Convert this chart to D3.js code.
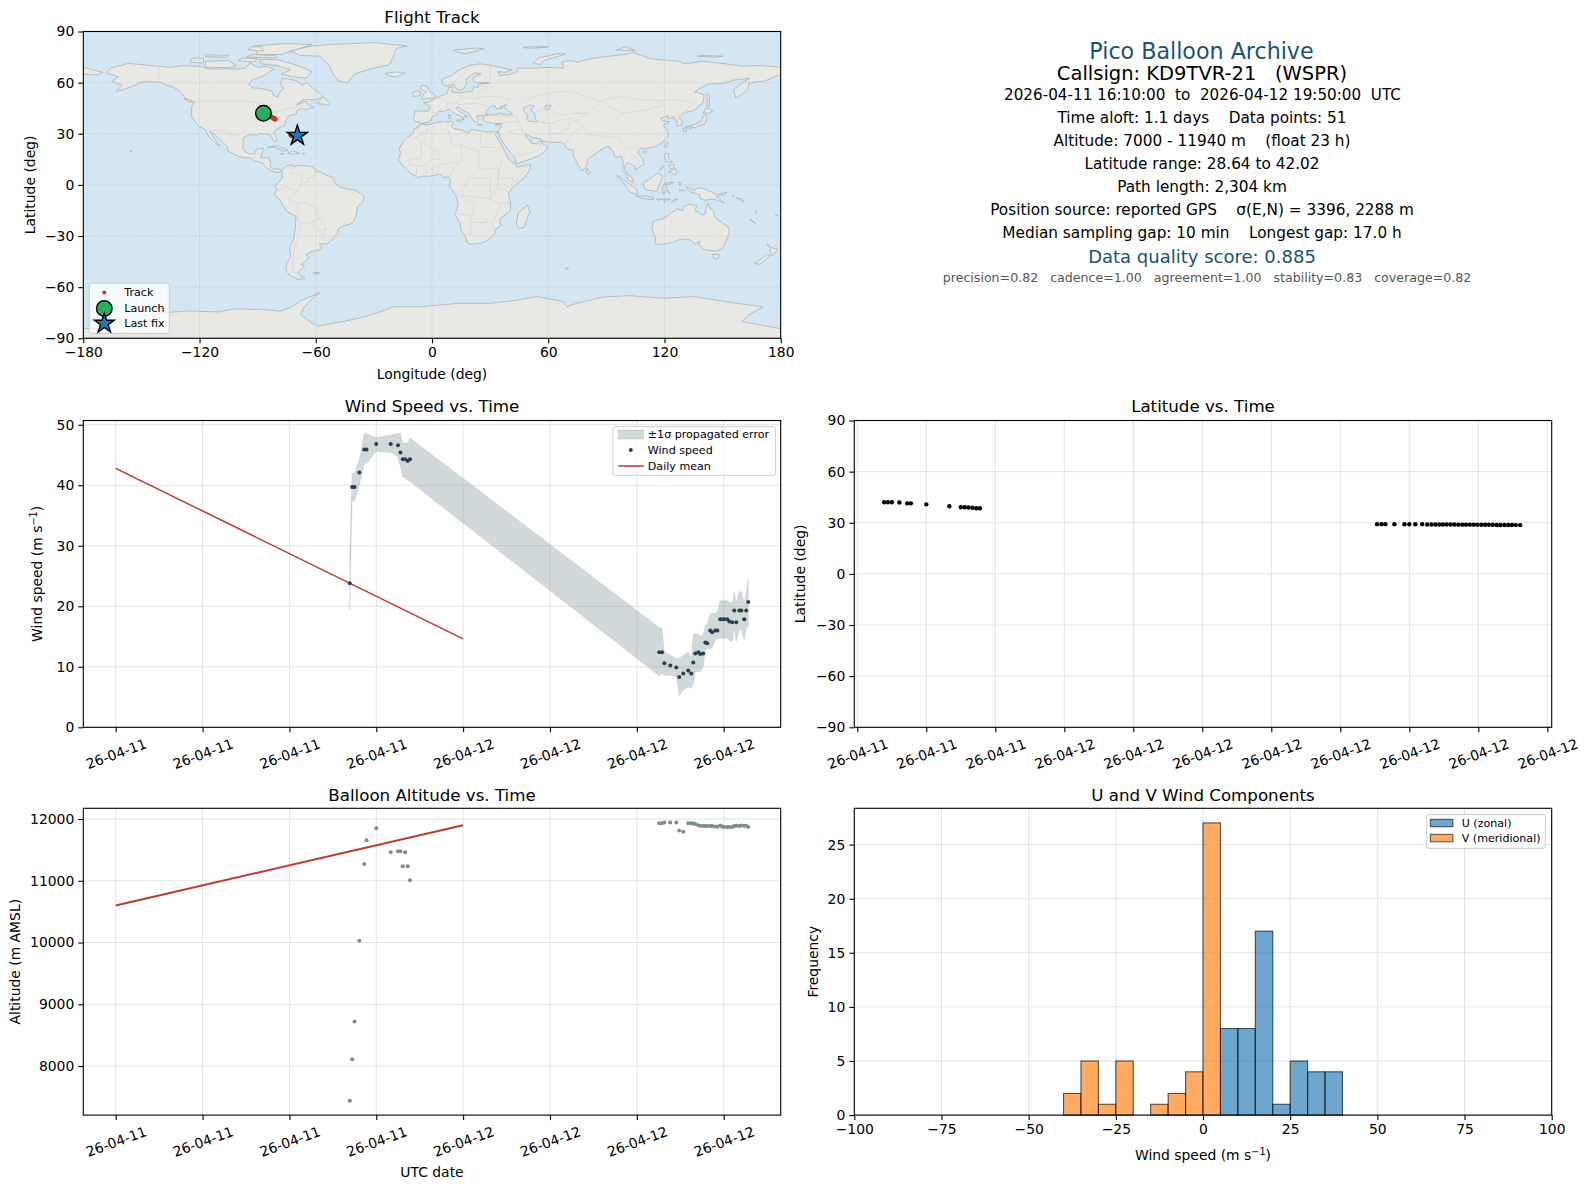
<!DOCTYPE html>
<html>
<head>
<meta charset="utf-8">
<script src="https://cdn.jsdelivr.net/npm/d3@7"></script>
<style>
  html, body { margin: 0; padding: 0; background: #fff; }
  svg { display: block; }
  text { font-family: "DejaVu Sans", sans-serif; fill: #000; }
</style>
</head>
<body>
<svg id="chart" width="1589" height="1189"></svg>
<script>
// all times are hours after 2026-04-11 00:00 UTC
const windHours = [16.17, 16.33, 16.5, 16.83, 17.17, 17.33, 18, 19, 19.5, 19.67, 19.83, 20, 20.17, 20.33,
    37.55, 37.74, 37.9, 38.31, 38.73, 38.93, 39.21, 39.55, 39.76, 39.9, 40.04, 40.25, 40.38, 40.59, 40.73, 40.86,
    41.07, 41.21, 41.42, 41.56, 41.76, 41.9, 42.04, 42.25, 42.39, 42.59, 42.73, 42.87, 43.08, 43.22, 43.42, 43.56, 43.7];
const windSpeed = [23.8, 39.7, 39.7, 42.1, 45.9, 45.9, 46.8, 46.8, 46.6, 45.4, 44.3, 44.3, 44, 44.3,
    12.4, 12.4, 10.6, 10.2, 9.9, 8.3, 8.9, 9.4, 8.9, 10.7, 12.2, 12.4, 12.1, 12.2, 14, 13.9,
    16, 15.7, 16, 16, 17.85, 17.85, 17.85, 17.85, 17.5, 17.35, 19.3, 17.35, 19.3, 19.3, 17.85, 19.3, 20.7];
const windHigh = [28.2, 42, 42, 44.2, 48.5, 48.5, 47.9, 48.3, 48.6, 48.6, 47, 47, 47, 47.8,
    16.5, 16.4, 12.4, 12, 11.3, 11.4, 11.9, 12.4, 11.4, 15.3, 15.4, 15.4, 15, 15.3, 16.9, 16.9,
    18.8, 18.8, 18.8, 19.1, 20.9, 20.9, 20.9, 20.9, 20.7, 20.5, 22.4, 20.5, 22.4, 22.4, 20.5, 22.4, 24.6];
const windLow = [19.4, 37.6, 37.3, 40, 43.6, 43.6, 45.6, 45.4, 44.7, 43.1, 41.4, 41.2, 40.8, 40.6,
    8.5, 8.9, 8.6, 8.6, 8.4, 5.2, 6.2, 6.7, 6.4, 7.3, 9.2, 9.2, 9.2, 10, 12.8, 13.1,
    12.9, 13.2, 14.4, 14.7, 14.7, 14.7, 14.7, 14.7, 14.4, 14.2, 16.4, 14.2, 16.1, 16.1, 14.4, 16.4, 16.6];
const dailyHours = [0, 24];
const dailyWind = [42.8, 14.6];
const dailyAltitude = [10600, 11900];

const altitude = [7440, 8110, 8720, 10030, 11270, 11655, 11850, 11460, 11477, 11477, 11235, 11460, 11235, 11008,
    11930, 11930, 11945, 11945, 11945, 11815, 11795, 11930, 11930, 11925, 11920, 11900, 11890, 11885, 11885, 11885,
    11885, 11885, 11880, 11875, 11895, 11880, 11870, 11870, 11870, 11870, 11885, 11890, 11885, 11895, 11890, 11890, 11870];

const latHours = [16.17, 16.33, 16.5, 16.83, 17.17, 17.33, 18, 19, 19.5, 19.67, 19.83, 20, 20.17, 20.33,
    37.6, 37.79, 37.96, 38.35, 38.79, 39, 39.26, 39.56, 39.78, 39.96, 40.13, 40.3, 40.46, 40.63, 40.8, 40.96,
    41.13, 41.3, 41.46, 41.63, 41.8, 41.96, 42.13, 42.3, 42.46, 42.63, 42.8, 42.96, 43.13, 43.3, 43.46, 43.63, 43.82];
const latitude = [42.02, 42, 42, 41.9, 41.4, 41.4, 40.8, 39.7, 39.1, 39.1, 39, 38.8, 38.5, 38.5,
    29.2, 29.2, 29.2, 29.1, 29.1, 29.1, 29.1, 29.1, 29, 29, 29, 29, 29, 29, 29, 29,
    28.9, 28.9, 28.9, 28.9, 28.9, 28.8, 28.8, 28.8, 28.8, 28.8, 28.7, 28.7, 28.7, 28.7, 28.7, 28.64, 28.64];
const longitude = [-87, -86.6, -86.2, -85.4, -84.8, -84.5, -83.5, -82.8, -81.9, -81.7, -81.4, -81.2, -81, -80.8,
    -72.8, -72.7, -72.6, -72.5, -72.4, -72.3, -72.2, -72.1, -72, -71.9, -71.8, -71.7, -71.6, -71.5, -71.4, -71.3,
    -71.2, -71.1, -71, -70.9, -70.8, -70.7, -70.6, -70.5, -70.4, -70.3, -70.2, -70.1, -70, -69.9, -69.8, -69.7, -69.5];

const binStarts = [-40, -35, -30, -25, -20, -15, -10, -5, 0, 5, 10, 15, 20, 25, 30, 35];
const uCounts = [0, 0, 0, 0, 0, 0, 0, 0, 0, 8, 8, 17, 1, 5, 4, 4];
const vCounts = [2, 5, 1, 5, 0, 1, 2, 4, 27, 0, 0, 0, 0, 0, 0, 0];

const mapLonTicks = [-180, -120, -60, 0, 60, 120, 180];
const mapLatTicks = [-90, -60, -30, 0, 30, 60, 90];
const windTicks = [0, 10, 20, 30, 40, 50];
const altitudeTicks = [8000, 9000, 10000, 11000, 12000];
const histXTicks = [-100, -75, -50, -25, 0, 25, 50, 75, 100];
const histYTicks = [0, 5, 10, 15, 20, 25];

// text, font size, colour, y, x offset from the column centre
const summaryLines = [
    ['Pico Balloon Archive', 22.2, '#1a5276', 50.5, -1.5],
    ['Callsign: KD9TVR-21   (WSPR)', 19.5, '#000', 73, -1],
    ['2026-04-11 16:10:00  to  2026-04-12 19:50:00  UTC', 15.2, '#000', 94.5, -0.5],
    ['Time aloft: 1.1 days    Data points: 51', 15.3, '#000', 117.5, -1],
    ['Altitude: 7000 - 11940 m    (float 23 h)', 15.3, '#000', 140.5, -1],
    ['Latitude range: 28.64 to 42.02', 15.3, '#000', 163.5, -1],
    ['Path length: 2,304 km', 15.3, '#000', 186.5, -1],
    ['Position source: reported GPS    σ(E,N) = 3396, 2288 m', 15.3, '#000', 209.5, -1],
    ['Median sampling gap: 10 min    Longest gap: 17.0 h', 15.3, '#000', 232.5, -1],
    ['Data quality score: 0.885', 18, '#1a5276', 256.5, -1],
    ['precision=0.82   cadence=1.00   agreement=1.00   stability=0.83   coverage=0.82', 12.6, '#555', 277.5, 4],
];

// coarse coastlines, hand traced [lon, lat]
const landShapes = [
    // north america
    [[-168,65.6],[-166,68.5],[-156.5,71.3],[-141,69.6],[-135,69],[-128,70],[-120,69.5],[-115,68],[-108,68],[-100,68],[-96,68.5],[-94,71.5],[-90,69],[-85,69.5],[-81.5,68],[-87,64],[-93,61.5],[-94.5,59],[-92.5,57],[-88,56.5],[-82.5,55],[-82,52.5],[-79.5,51.5],[-79,54],[-76.5,56.5],[-78,59],[-77.5,62.5],[-73,62],[-70,61],[-67,58.5],[-64.5,60],[-61,56],[-57,53],[-56,51.8],[-60,50],[-66.5,50],[-70,47],[-65,49],[-64,47],[-61,45.5],[-66,44],[-67,45],[-70,43.5],[-70,41.7],[-74,40.5],[-75.5,38],[-76,35],[-78,34],[-81,32],[-81.5,30.5],[-80,27],[-80.3,25.2],[-81.5,25.5],[-82.8,28],[-83.5,29.5],[-85.5,29.8],[-89,30.2],[-90,29.2],[-94,29.5],[-97,28],[-97.5,25],[-97.8,22],[-96,19],[-94,18.2],[-91.5,18.5],[-90.5,21],[-87,21.5],[-88,18],[-88.5,16],[-84,15.8],[-83.3,12],[-83.7,11],[-82,9],[-79.5,9.5],[-77.5,8.5],[-78.5,7.5],[-80.5,7.3],[-83,8.3],[-85.5,10],[-87.5,13],[-91.5,14],[-94.5,16.2],[-97,15.8],[-101.5,17.5],[-105.5,20],[-105.5,22.5],[-109,26],[-112.5,30],[-114.7,31.5],[-113,28.5],[-111,25],[-109.7,23],[-112,24.8],[-115,28],[-116.5,31],[-117,32.5],[-120.5,34.5],[-122.5,37.5],[-124.3,40.5],[-124,46],[-122.5,48.5],[-127,50.5],[-130,54.5],[-133,57],[-137,58.5],[-140,60],[-146,60.8],[-151,60],[-153,58.5],[-158,56.5],[-163,54.8],[-160,58.5],[-165,60.5],[-162,63.5]],
    // canadian arctic, greenland, newfoundland
    [[-80,73.5],[-72,71],[-67,69],[-62,66.5],[-65,62.5],[-72,63.5],[-78,65],[-73,67.5],[-80,70],[-88,71],[-89,73.5]],
    [[-117,69],[-105,68.8],[-101,70],[-105,73],[-117,72.5]],
    [[-125,72],[-118,71.5],[-118,74.5],[-124,74.3]],
    [[-90,76.5],[-78,76.5],[-62,82.3],[-75,83],[-92,81.5]],
    [[-96,75],[-80,74.5],[-81,75.8],[-92,76.5]],
    [[-100,73],[-92,72],[-90,74],[-98,74.5]],
    [[-117,75.2],[-106,74.9],[-105,76],[-117,76.3]],
    [[-95,79.3],[-87,78.5],[-88,81],[-93,81]],
    [[-59,47.7],[-53,46.7],[-52.8,48.5],[-56,51.5],[-57.5,50]],
    [[-73,78.5],[-68,76],[-58,75.5],[-53,70],[-51,65],[-48.5,61],[-43.5,60],[-40,65],[-32,68],[-22,70.5],[-20,75],[-18.5,80],[-13,81.5],[-30,83.5],[-50,82.5],[-62,81.5],[-68,80]],
    [[-85,22],[-80,23],[-75,20.7],[-74.2,20.1],[-77.5,19.9],[-78,20.7],[-82,22.3]],
    [[-74.4,18.5],[-72,20],[-68.5,18.5],[-71,18]],
    [[-78.3,18.4],[-76.3,18.2],[-77,17.8]],
    [[-67.2,18.5],[-65.7,18.4],[-66,18]],
    [[-128,50.5],[-125,50],[-123.5,48.5],[-125.5,48.8]],
    [[-156,20.2],[-155,19.8],[-155.7,19],[-156,19.7]],
    // south america
    [[-77.5,8.5],[-75.5,10.8],[-72,12],[-71.5,10.8],[-68,11.5],[-62,10.7],[-60,8.5],[-55,6],[-51.5,4.5],[-50,1],[-48,-1],[-44,-2.5],[-40,-3],[-37,-4.8],[-35,-7],[-35.5,-9.5],[-38.5,-13],[-39,-17],[-40.5,-21.5],[-42,-23],[-46,-24],[-48.5,-26],[-48.7,-28.5],[-52,-32.5],[-54,-34.5],[-58,-34.5],[-57,-36.5],[-57.7,-38.2],[-62,-39],[-65,-41],[-63.5,-42.5],[-65.5,-45],[-67.5,-46.5],[-65.8,-47.5],[-69,-51],[-68.5,-52.5],[-65.5,-55],[-69,-55.5],[-73,-53.5],[-75.5,-50],[-75,-46],[-73,-42],[-73.5,-37],[-71.5,-32],[-70.5,-25],[-70.2,-18.5],[-75,-15.5],[-77,-12],[-79,-8],[-81.2,-6],[-81,-4],[-80,-2.5],[-81,-1],[-80,1],[-78.8,1.7],[-77.3,4],[-77.5,7]],
    [[-61,-51.5],[-58,-51.3],[-58.5,-52.2],[-60.5,-52.2]],
    // africa
    [[-6,35.8],[-2,35.2],[3,36.8],[10,37.3],[11,36.8],[10.2,34],[11,33.2],[15,32.3],[19,30.3],[20,32.5],[25,31.7],[29,31],[32.5,31.2],[34.2,31.3],[32.5,29.5],[34,27],[36,23],[37.3,20],[38.5,18],[39.5,15],[43,12],[44,10.5],[51,12],[50.5,9],[47.5,4],[42,-1],[39.5,-5],[40.5,-11],[40.5,-15],[35,-20],[35.5,-24],[32.8,-26],[32.5,-28.5],[29,-32.5],[26,-34],[20,-34.8],[18.3,-34],[17,-30],[15,-26.5],[14.5,-22.5],[11.8,-17.5],[13.5,-12],[13,-8.5],[11.8,-5],[9,-1],[9.5,3],[8.5,4.5],[5.5,4.5],[4,6.3],[-2,5],[-4.5,5.2],[-7.5,4.4],[-11,6.8],[-13.5,9.5],[-15,11],[-17.3,14.7],[-16.2,19],[-17,21],[-14.5,26],[-12.8,27.8],[-9.8,30],[-9.5,32.5],[-6.8,34]],
    [[49.3,-12],[50.5,-15.5],[47.5,-24.8],[45,-25.5],[43.5,-23],[44.5,-16.5]],
    // eurasia
    [[-9,37],[-9.5,38.8],[-8.8,43.2],[-1.8,43.4],[-1,46],[-4.5,48.3],[-1.5,48.7],[1.5,50.5],[4,52],[8,53.8],[8.5,57],[10.5,57.5],[10,54.5],[14,54],[18.5,54.7],[21,55],[21.5,57.5],[24,57.2],[24,59.2],[30,59.8],[23,60],[21.3,61],[21.5,63],[25.2,65],[22,65.7],[17.5,62],[18,60],[16.5,56.5],[14,55.5],[12.8,56.3],[11,59],[8,58],[5.5,59],[5,62],[10,64],[14,67.5],[19,70],[25,71],[31,70],[41,67.5],[38,66],[34,66.5],[35,64.3],[40,64.7],[44,66.5],[44,68.5],[54,68.5],[60,69],[68,68.5],[67,72],[72,73],[75,72],[80,73.5],[87,75],[100,76.5],[104,77.7],[113,74],[128,72.5],[130,71],[140,72.5],[152,71],[160,69.7],[170,70],[180,69],[180,65],[178,64],[172,61],[163.5,59.8],[163,56],[159.7,53],[156.7,51],[155.7,56],[161,60.5],[164,62.5],[156,61.5],[150,59.5],[142,59],[135.5,54.7],[140.5,53],[140,48.5],[135,43.5],[130.5,42.5],[127.5,39.8],[129.4,37],[129,35.2],[126.4,34.5],[126.5,37.5],[125,38.5],[125,39.7],[121.5,39],[122,40.7],[118,39],[119,37.5],[122.5,37],[119.3,35],[121.8,31.5],[121.8,28.5],[119,25],[116,22.8],[110.5,21.2],[108,21.5],[106,19.5],[108.8,15.5],[109.3,12],[106.5,10],[105,8.7],[105,10.5],[102.5,12.2],[100.8,13.3],[100,12],[99.3,9.5],[100.5,7],[103.3,4],[104.2,1.4],[101.3,2.8],[100.3,6],[98.3,8.5],[98.7,14],[97.5,16.8],[94.5,16],[94,18.5],[91.5,22.5],[89,21.8],[86.5,20],[80.3,15],[80,11.5],[77.5,8],[75.5,11.5],[73,17],[72.8,20.5],[70,20.8],[68.5,23.5],[66.8,25],[61.5,25],[57,25.7],[56.4,27],[51.5,27.8],[48.5,30],[48,29.5],[50,26.5],[51.3,26],[51,24.5],[54,24],[56.3,26],[56.5,24.5],[59.8,22.5],[57.8,19],[55,17],[52,15.6],[45,12.8],[43.3,12.7],[42.7,16],[39,21],[35,28],[34.8,29.5],[34.2,31.3],[35,33],[36,36],[32.5,36],[28,36.7],[26.3,38.5],[26.5,40],[29,41],[31.5,41.2],[35,42],[38,41],[41.5,41.5],[39,44],[37,45.2],[38.5,47],[35,46],[36.5,45.2],[33.5,44.6],[32.5,45.5],[33,46],[30.7,46.5],[28.5,44],[27.8,42.5],[28.8,41.3],[26.2,40.8],[23,40.5],[24,38],[23,36.5],[21.5,37.5],[19.5,41],[19,42],[15,44.5],[13.6,45.7],[12.3,45],[13.5,43.5],[16,41.7],[18.5,40],[16.8,40.3],[16,38],[15.7,40],[12.5,41.4],[10.3,43],[8.8,44.4],[6,43],[3.5,43.3],[3,42],[0,39.8],[-0.5,38],[-2,36.8],[-5.5,36],[-6.5,37]],
    [[-180,69],[-175,67.5],[-170,66],[-173,64.5],[-180,65]],
    // european and arctic islands
    [[-5.5,50.2],[1.3,51.2],[1.7,52.7],[-0.5,54],[-2,56],[-2,57.6],[-5,58.6],[-6,56.5],[-3,54.5],[-4.5,53.2],[-5,51.7]],
    [[-10,52],[-6.3,52.2],[-6,54.5],[-8,55.2],[-10,54]],
    [[-24,65.5],[-18,66.3],[-14,65.5],[-18.5,63.4],[-22.5,64]],
    [[11,79],[22,80.3],[27,80],[18,77],[14,77.5]],
    [[52,71.5],[56,70.6],[58,73],[69,76.8],[65,77],[55,74.5]],
    [[95,79],[105,78.8],[100,81]],
    [[137,75.5],[146,75],[150,75.5],[140,76]],
    [[47,80.5],[53,80.2],[60,81],[50,81]],
    [[12.5,38],[15.5,38.2],[15,36.8]],
    [[8.3,41],[9.7,41],[9.5,39],[8.5,39]],
    [[23.5,35.5],[26.2,35.2],[24.5,34.9]],
    [[32.5,35],[34.5,35.6],[33.8,34.6]],
    // east asia and indonesia
    [[142,54],[143.3,52],[143,49],[143.5,46.5],[142,46],[142,50]],
    [[140,42],[141.5,45.3],[145,43.5],[143,42]],
    [[130.9,34],[135.8,35.6],[139,37.5],[140,40],[141.3,41.3],[142,39.5],[140.8,35.7],[137,34.6],[135.7,33.5],[132,34]],
    [[129.7,33.2],[131.7,33.6],[131,31.2],[130,31.5]],
    [[132.5,33.8],[134.5,34.2],[134,33.3],[133,32.8]],
    [[121,25.2],[122,25],[120.8,22],[120,23.5]],
    [[108.7,19.3],[110.5,20.2],[111,19.6],[109.5,18.2]],
    [[79.8,9.7],[81.8,7.5],[80.7,6],[79.8,7.5]],
    [[120.5,18.4],[122.2,18.4],[122,16],[124,13],[121,13.7],[120,16]],
    [[122,7.5],[125.5,9.7],[126.5,7.5],[125.3,5.8],[123.5,7.5]],
    [[122,11.5],[125,12],[125,10.2],[123,9.5]],
    [[117.2,8.4],[119.5,11.2],[118.5,9.3]],
    [[109,1.5],[111.5,2.8],[116.8,7],[119,5],[117.7,1],[116,-3.8],[110.5,-3],[109,0]],
    [[95.3,5.6],[98,4],[103.5,-1],[106,-3],[105.8,-5.8],[102,-4],[98.7,1.5]],
    [[105.3,-6.5],[110.5,-6.5],[114.5,-7.7],[114.3,-8.7],[108,-7.8]],
    [[119.5,-5.5],[119,-2.5],[120,1],[124.8,1.5],[123,0.5],[120.5,0.2],[121,-2],[123,-5],[120.5,-3]],
    [[131,-1],[135,-3.3],[138,-1.6],[141,-2.6],[145,-4.5],[147.8,-6.5],[147,-7],[150.8,-10.5],[146,-8.5],[143.5,-8.5],[141,-9],[138.5,-8],[138,-5.5],[133,-4],[132,-2.8]],
    [[123.5,-10.3],[127,-8.4],[125,-8.6]],
    [[119,-8.4],[123,-8.3],[122,-9]],
    [[116,-8.4],[119,-8.4],[117,-9]],
    [[119.5,-9.4],[120.8,-9.8],[120,-10.2]],
    [[127.5,-3],[130.8,-3.2],[128,-3.5]],
    [[127.5,2],[128.5,1],[128,-0.7]],
    [[148,-5.5],[152,-4.2],[151,-6]],
    [[155,-6],[156,-7],[155.5,-6.8]],
    [[157,-7.5],[161,-10],[160,-8.5]],
    [[166.8,-15],[167.5,-16.5],[167,-15.8]],
    [[164,-20],[167,-22.3],[166,-22]],
    [[177.5,-17.5],[178.5,-18],[177.5,-18.2]],
    // australasia
    [[114,-22],[113.5,-26],[115.5,-31.5],[115,-34.3],[118,-35],[123.5,-33.9],[129,-31.7],[133,-32.2],[135.8,-34.8],[138,-33],[138,-35.5],[140.5,-38],[144,-38.5],[146.5,-39],[150,-37.3],[151.5,-33.5],[153.5,-28],[153,-25],[149.5,-22],[146,-19],[145.3,-15],[143.5,-14],[142.5,-10.8],[141.5,-13.5],[141,-17],[139.5,-17.5],[135.7,-15],[136.8,-12.2],[132.7,-11.4],[130,-12.8],[129.5,-15],[126.5,-14],[122.3,-17.5],[119,-20],[115,-21]],
    [[144.7,-40.8],[148.3,-40.9],[148,-43],[146,-43.5],[145.2,-42]],
    [[172.7,-34.5],[175.5,-37],[178.4,-37.7],[176.8,-40],[175.2,-41.6],[174.8,-39.8],[174.5,-37.5]],
    [[172.7,-40.6],[174.2,-41.7],[171,-45],[169,-46.6],[166.5,-46],[170.5,-43]],
    [[68.8,-48.8],[70.5,-49],[69.5,-49.6]],
    // antarctica
    [[-180,-84.4],[-165,-84],[-158,-80],[-150,-77],[-140,-75],[-125,-74],[-110,-74.5],[-102.7,-72.8],[-88,-73],[-78.5,-74],[-73,-72],[-68,-68],[-58,-63.3],[-62,-67],[-66,-72],[-68,-76],[-62,-81],[-58.9,-82.8],[-45,-80],[-37,-78],[-28,-75],[-20,-71.5],[-6,-71.5],[14.4,-69.4],[30,-69.5],[42,-68],[54,-65.5],[68,-68.5],[69.7,-71.5],[74.7,-69.5],[88,-65.8],[102,-65],[120,-66.5],[135,-65.5],[146,-67.5],[157,-69.4],[171,-71.5],[163.4,-76.4],[160,-80.2],[180,-84.4],[180,-90],[-180,-90]],
];
const waterShapes = [
    [[47,45],[51,47],[53,46],[51,44.5],[53,41],[54,37],[50,37.3],[49,39],[49.5,41],[47.5,43]],
    [[58.5,46.5],[61.5,46.8],[60,44],[58.5,44]],
];
const borderLines = [
    [[-123,49],[-95,49],[-89,48],[-83,46],[-82.5,42.5],[-79,43],[-75,45],[-71,45],[-68,47.3],[-67,45]],
    [[-141,69.6],[-141,60],[-135,59],[-130,55]],
    [[-117,32.5],[-108,31.5],[-106.5,31.7],[-103,29],[-101,29.7],[-97.2,26]],
    [[-92,14.5],[-91,18],[-88.5,18]],
    [[-72,12],[-72.5,7],[-67.5,6],[-67,1.5]],
    [[-60,8.5],[-60.5,5],[-64,4],[-64,2],[-67,1.5],[-70,-4.2],[-74,-7.5],[-70,-11],[-65.5,-10],[-60,-13.5],[-58,-20],[-54.5,-25.5],[-57.5,-30],[-53.5,-33.5]],
    [[-69.5,-17.5],[-68,-23],[-70,-33],[-71.5,-40],[-72,-50],[-68.5,-52.5]],
    [[-69.5,-17.5],[-69,-11]],
    [[-68,-23],[-63,-22],[-58,-20]],
    [[-63,-22],[-58,-27],[-54.5,-25.5]],
    [[-80,-3.5],[-75,-1],[-70,-4.2]],
    [[-2,35],[-2,32],[-8.7,27.7],[-13,27.7]],
    [[9,30],[10,24],[12,23.5]],
    [[8.5,37],[8,33],[9,30]],
    [[-8.7,27.7],[-5,25],[3,19],[4,15],[0,15],[-5,11],[-12,12],[-11.5,15],[-5.5,15.5],[-6,25]],
    [[12,23.5],[15,23],[15.5,16],[14,13],[13.5,13.5],[3.5,12],[3,7]],
    [[25,31.7],[25,22],[37,22]],
    [[24,20],[24,9]],
    [[24,20],[15,23]],
    [[34,4],[36,15],[38.5,18]],
    [[24,9],[34,10],[34,4]],
    [[42,1],[48,8],[43,11]],
    [[34,4],[34,-1],[39.5,-4.5]],
    [[34,4],[42,4],[41,-1.5]],
    [[13,-6],[30,-8],[30,-1],[30,4],[18.5,4],[17,-1],[13,-5]],
    [[13,-17],[21,-18],[22,-11],[13,-6]],
    [[20,-18],[20,-29],[16.5,-28.6]],
    [[20,-22],[29,-22],[25,-18]],
    [[32,-26],[31,-22],[34,-16],[35,-11],[40.5,-10.5]],
    [[34,-1],[30,-8],[35,-11]],
    [[13.5,13.5],[9,5]],
    [[-8,4.5],[-8,10]],
    [[-3,5],[-3,11]],
    [[1,6],[0,11]],
    [[30,70],[30,62],[28,60]],
    [[20,69],[12,61],[11,59]],
    [[24,59],[28,57],[23.5,54]],
    [[14,54],[15,51],[24,50.5],[23.5,54]],
    [[3,51],[8,49],[7.5,44]],
    [[3,42],[-2,43]],
    [[8,48],[13,48],[15,51]],
    [[13,47],[22.5,48],[30,46]],
    [[40,50],[33,52],[24,51.5]],
    [[38,47],[40,50]],
    [[26,41],[44,40],[44.5,37],[36,36.5]],
    [[44.5,37],[46,33],[48,30]],
    [[61,36],[61,30],[62,25]],
    [[53,37],[61,36]],
    [[39,32],[46,29],[48,29.5]],
    [[43,17],[52,19],[55,20],[56,24.5]],
    [[61,30],[66,30],[70,33],[71,37],[74.5,37.5]],
    [[68.5,23.7],[71,28],[74.5,32],[78,35]],
    [[74.5,37.5],[80,42],[87,49],[98,42],[111,44],[120,47],[117,49.5],[127,50],[135,48],[131,43],[124,40]],
    [[78,35],[81,30],[88,28],[97,28],[98,24],[101,21.5],[107,22]],
    [[47,48],[51,51],[61,54],[70,55],[77,53],[87,49]],
    [[53,42],[56,45],[61,44],[67,41],[71,42],[80,42]],
    [[54,38],[61,36],[66,38],[73,39]],
    [[87,49],[98,52],[106,50],[117,49.5]],
    [[98,15],[100,20],[101,21.5]],
    [[103,18],[107,14],[105,10.5]],
    [[125,38],[128,38.5]],
];

const MINUS = '\u2212';
const RED = '#c0392b';
const OCEAN = '#d4e6f1';
const COAST = '#a8b0b4';
const LEFT_COL = 83.3;
const RIGHT_COL = 854.3;
const AXES_W = 697.4;
const AXES_H = 306.8;

const toDate = (hours) => new Date(Date.UTC(2026, 3, 11) + hours * 3600e3);
const signed = (value) => String(value).replace('-', MINUS);
const svg = d3.select('#chart');

function makePanel(left, top, title, titleY) {
    const panel = svg.append('g').attr('transform', `translate(${left},${top})`);
    panel.append('text')
        .attr('x', AXES_W / 2)
        .attr('y', titleY)
        .attr('text-anchor', 'middle')
        .style('font-size', '16.67px')
        .text(title);
    return panel;
}

function drawAxes(panel, xAxis, yAxis, rotate) {
    const gx = panel.append('g').attr('transform', `translate(0,${AXES_H})`).call(xAxis);
    const gy = panel.append('g').call(yAxis);
    [gx, gy].forEach((axis) => {
        axis.select('.domain').remove();
        axis.selectAll('line').attr('stroke', '#000').attr('stroke-width', 1.1);
        axis.selectAll('text').style('font-size', '13.9px').style('font-family', '"DejaVu Sans", sans-serif');
    });
    if (rotate) {
        gx.selectAll('text')
            .attr('dy', null)
            .attr('y', null)
            .attr('dominant-baseline', 'central')
            .attr('transform', 'translate(0,26.5) rotate(-20)');
    }
    panel.append('rect')
        .attr('width', AXES_W)
        .attr('height', AXES_H)
        .attr('fill', 'none')
        .attr('stroke', '#000')
        .attr('stroke-width', 1.1);
}

function drawGrid(panel, xValues, x, yValues, y) {
    const grid = panel.append('g').attr('stroke', '#e3e3e3').attr('stroke-width', 1);
    grid.selectAll('.vgrid').data(xValues).join('line')
        .attr('class', 'vgrid')
        .attr('x1', x).attr('x2', x)
        .attr('y1', 0).attr('y2', AXES_H);
    grid.selectAll('.hgrid').data(yValues).join('line')
        .attr('class', 'hgrid')
        .attr('x1', 0).attr('x2', AXES_W)
        .attr('y1', y).attr('y2', y);
}

function yLabel(panel, x, text, superscript) {
    const label = panel.append('text')
        .attr('transform', `translate(${x},${AXES_H / 2}) rotate(-90)`)
        .attr('text-anchor', 'middle')
        .style('font-size', '13.9px')
        .text(text);
    if (superscript) {
        label.append('tspan').attr('dy', -5).style('font-size', '9.7px').text(superscript);
        label.append('tspan').attr('dy', 5).text(')');
    }
}

function xLabel(panel, y, text, superscript) {
    const label = panel.append('text')
        .attr('x', AXES_W / 2)
        .attr('y', y)
        .attr('text-anchor', 'middle')
        .style('font-size', '13.9px')
        .text(text);
    if (superscript) {
        label.append('tspan').attr('dy', -5).style('font-size', '9.7px').text(superscript);
        label.append('tspan').attr('dy', 5).text(')');
    }
}

function legendBox(panel, x, y, width, height) {
    return panel.append('rect')
        .attr('x', x).attr('y', y)
        .attr('width', width).attr('height', height)
        .attr('rx', 2)
        .attr('fill', '#fff')
        .attr('fill-opacity', 0.8)
        .attr('stroke', '#ccc')
        .attr('stroke-width', 1);
}

function legendText(panel, x, y, text) {
    panel.append('text')
        .attr('x', x).attr('y', y)
        .attr('dominant-baseline', 'central')
        .style('font-size', '11.1px')
        .text(text);
}

// ---- flight track map
function drawMap() {
    const panel = makePanel(LEFT_COL, 31.5, 'Flight Track', -8.5);
    const lon = d3.scaleLinear().domain([-180, 180]).range([0, AXES_W]);
    const lat = d3.scaleLinear().domain([-90, 90]).range([AXES_H, 0]);
    const line = d3.line().x((d) => lon(d[0])).y((d) => lat(d[1]));
    const closed = (d) => line(d) + 'Z';

    svg.append('defs').append('clipPath').attr('id', 'map-clip')
        .append('rect').attr('width', AXES_W).attr('height', AXES_H);

    const map = panel.append('g').attr('clip-path', 'url(#map-clip)');
    map.append('rect').attr('width', AXES_W).attr('height', AXES_H).attr('fill', OCEAN);
    map.selectAll('.land').data(landShapes).join('path')
        .attr('class', 'land')
        .attr('d', closed)
        .attr('fill', '#e8e8e4')
        .attr('stroke', COAST)
        .attr('stroke-width', 0.8)
        .attr('stroke-linejoin', 'round');
    map.selectAll('.water').data(waterShapes).join('path')
        .attr('class', 'water')
        .attr('d', closed)
        .attr('fill', OCEAN)
        .attr('stroke', COAST)
        .attr('stroke-width', 0.8);
    map.selectAll('.border').data(borderLines).join('path')
        .attr('class', 'border')
        .attr('d', line)
        .attr('fill', 'none')
        .attr('stroke', '#d4d4d0')
        .attr('stroke-width', 0.7);

    const grid = map.append('g')
        .attr('stroke', '#8c9296')
        .attr('stroke-opacity', 0.35)
        .attr('stroke-width', 0.6)
        .attr('stroke-dasharray', '2,1.5');
    grid.selectAll('.vgrid').data(mapLonTicks).join('line')
        .attr('class', 'vgrid')
        .attr('x1', lon).attr('x2', lon).attr('y1', 0).attr('y2', AXES_H);
    grid.selectAll('.hgrid').data(mapLatTicks).join('line')
        .attr('class', 'hgrid')
        .attr('y1', lat).attr('y2', lat).attr('x1', 0).attr('x2', AXES_W);

    map.selectAll('.track').data(longitude).join('circle')
        .attr('class', 'track')
        .attr('cx', (d) => lon(d))
        .attr('cy', (d, i) => lat(latitude[i]))
        .attr('r', 2.4)
        .attr('fill', RED)
        .attr('fill-opacity', 0.85);

    const star = d3.symbol().type(d3.symbolStar).size(124)();
    map.append('circle')
        .attr('cx', lon(longitude[0]))
        .attr('cy', lat(latitude[0]))
        .attr('r', 7.8)
        .attr('fill', '#27ae60')
        .attr('stroke', '#000')
        .attr('stroke-width', 1.4);
    map.append('path')
        .attr('d', star)
        .attr('transform', `translate(${lon(-69.5)},${lat(28.9)})`)
        .attr('fill', '#1f77b4')
        .attr('stroke', '#000')
        .attr('stroke-width', 1.4);

    drawAxes(panel,
        d3.axisBottom(lon).tickValues(mapLonTicks).tickSize(5).tickPadding(4).tickFormat(signed),
        d3.axisLeft(lat).tickValues(mapLatTicks).tickSize(5).tickPadding(4).tickFormat(signed));
    xLabel(panel, AXES_H + 41, 'Longitude (deg)');
    yLabel(panel, -48, 'Latitude (deg)');

    legendBox(panel, 6, 251.8, 80, 50);
    panel.append('circle').attr('cx', 21).attr('cy', 261).attr('r', 2).attr('fill', RED);
    panel.append('circle').attr('cx', 21).attr('cy', 277).attr('r', 7.8)
        .attr('fill', '#27ae60').attr('stroke', '#000').attr('stroke-width', 1.4);
    panel.append('path').attr('d', star).attr('transform', 'translate(21,292)')
        .attr('fill', '#1f77b4').attr('stroke', '#000').attr('stroke-width', 1.4);
    legendText(panel, 41, 261, 'Track');
    legendText(panel, 41, 277, 'Launch');
    legendText(panel, 41, 292, 'Last fix');
}

// ---- wind speed
function drawWind() {
    const panel = makePanel(LEFT_COL, 420.5, 'Wind Speed vs. Time', -9);
    const x = d3.scaleUtc().domain([toDate(-2.24), toDate(45.94)]).range([0, AXES_W]);
    const y = d3.scaleLinear().domain([0, 50.7]).range([AXES_H, 0]);
    const tickDates = x.ticks(d3.utcHour.every(6));
    drawGrid(panel, tickDates, x, windTicks, y);

    const band = d3.area()
        .x((d, i) => x(toDate(windHours[i])))
        .y0((d, i) => y(windLow[i]))
        .y1((d) => y(d));
    panel.append('path').datum(windHigh)
        .attr('d', band)
        .attr('fill', '#95a5a6')
        .attr('fill-opacity', 0.43)
        .attr('stroke', '#95a5a6')
        .attr('stroke-opacity', 0.3)
        .attr('stroke-width', 0.7);
    panel.append('path').datum(dailyWind)
        .attr('d', d3.line().x((d, i) => x(toDate(dailyHours[i]))).y((d) => y(d)))
        .attr('fill', 'none')
        .attr('stroke', RED)
        .attr('stroke-width', 1.5);
    panel.selectAll('.wind').data(windSpeed).join('circle')
        .attr('class', 'wind')
        .attr('cx', (d, i) => x(toDate(windHours[i])))
        .attr('cy', (d) => y(d))
        .attr('r', 2)
        .attr('fill', '#2c3e50');

    drawAxes(panel,
        d3.axisBottom(x).tickValues(tickDates).tickSize(5).tickFormat(d3.utcFormat('%y-%m-%d')),
        d3.axisLeft(y).tickValues(windTicks).tickSize(5).tickPadding(4),
        true);
    yLabel(panel, -41, 'Wind speed (m s', MINUS + '1');

    legendBox(panel, 529.7, 6.2, 162.6, 48.6);
    panel.append('rect').attr('x', 535).attr('y', 9.5).attr('width', 25.5).attr('height', 9)
        .attr('fill', '#95a5a6').attr('fill-opacity', 0.43).attr('stroke', '#95a5a6').attr('stroke-opacity', 0.3);
    panel.append('circle').attr('cx', 547.5).attr('cy', 29.5).attr('r', 2).attr('fill', '#2c3e50');
    panel.append('line').attr('x1', 535).attr('x2', 560.5).attr('y1', 45.5).attr('y2', 45.5)
        .attr('stroke', RED).attr('stroke-width', 1.5);
    legendText(panel, 564.5, 14, '\u00b11\u03c3 propagated error');
    legendText(panel, 564.5, 29.5, 'Wind speed');
    legendText(panel, 564.5, 45.5, 'Daily mean');
}

// ---- latitude
function drawLatitude() {
    const panel = makePanel(RIGHT_COL, 420.5, 'Latitude vs. Time', -9);
    const x = d3.scaleUtc().domain([toDate(14.87), toDate(45.19)]).range([0, AXES_W]);
    const y = d3.scaleLinear().domain([-90, 90]).range([AXES_H, 0]);
    const tickDates = x.ticks(d3.utcHour.every(3));
    drawGrid(panel, tickDates, x, mapLatTicks, y);
    panel.selectAll('.lat').data(latitude).join('circle')
        .attr('class', 'lat')
        .attr('cx', (d, i) => x(toDate(latHours[i])))
        .attr('cy', (d) => y(d))
        .attr('r', 2.2)
        .attr('fill', '#000');
    drawAxes(panel,
        d3.axisBottom(x).tickValues(tickDates).tickSize(5).tickFormat(d3.utcFormat('%y-%m-%d')),
        d3.axisLeft(y).tickValues(mapLatTicks).tickSize(5).tickPadding(4).tickFormat(signed),
        true);
    yLabel(panel, -49, 'Latitude (deg)');
}

// ---- altitude
function drawAltitude() {
    const panel = makePanel(LEFT_COL, 808.3, 'Balloon Altitude vs. Time', -7);
    const x = d3.scaleUtc().domain([toDate(-2.24), toDate(45.94)]).range([0, AXES_W]);
    const y = d3.scaleLinear().domain([7206, 12173]).range([AXES_H, 0]);
    const tickDates = x.ticks(d3.utcHour.every(6));
    drawGrid(panel, tickDates, x, altitudeTicks, y);
    panel.append('path').datum(dailyAltitude)
        .attr('d', d3.line().x((d, i) => x(toDate(dailyHours[i]))).y((d) => y(d)))
        .attr('fill', 'none')
        .attr('stroke', RED)
        .attr('stroke-width', 2);
    panel.selectAll('.alt').data(altitude).join('circle')
        .attr('class', 'alt')
        .attr('cx', (d, i) => x(toDate(windHours[i])))
        .attr('cy', (d) => y(d))
        .attr('r', 2)
        .attr('fill', '#7f8c8d');
    drawAxes(panel,
        d3.axisBottom(x).tickValues(tickDates).tickSize(5).tickFormat(d3.utcFormat('%y-%m-%d')),
        d3.axisLeft(y).tickValues(altitudeTicks).tickSize(5).tickPadding(4).tickFormat(d3.format('d')),
        true);
    xLabel(panel, AXES_H + 62, 'UTC date');
    yLabel(panel, -63, 'Altitude (m AMSL)');
}

// ---- wind components
function drawHistogram() {
    const panel = makePanel(RIGHT_COL, 808.3, 'U and V Wind Components', -7);
    const x = d3.scaleLinear().domain([-100, 100]).range([0, AXES_W]);
    const y = d3.scaleLinear().domain([0, 28.35]).range([AXES_H, 0]);
    drawGrid(panel, histXTicks, x, histYTicks, y);
    const bars = (counts, color) => {
        const bins = binStarts.map((start, i) => ({ start, count: counts[i] })).filter((d) => d.count > 0);
        panel.append('g').selectAll('rect').data(bins).join('rect')
            .attr('x', (d) => x(d.start))
            .attr('y', (d) => y(d.count))
            .attr('width', x(5) - x(0))
            .attr('height', (d) => y(0) - y(d.count))
            .attr('fill', color)
            .attr('fill-opacity', 0.65)
            .attr('stroke', '#000')
            .attr('stroke-opacity', 0.65)
            .attr('stroke-width', 1.1);
    };
    bars(uCounts, '#1f77b4');
    bars(vCounts, '#ff7f0e');
    drawAxes(panel,
        d3.axisBottom(x).tickValues(histXTicks).tickSize(5).tickPadding(4).tickFormat(signed),
        d3.axisLeft(y).tickValues(histYTicks).tickSize(5).tickPadding(4));
    xLabel(panel, AXES_H + 45, 'Wind speed (m s', MINUS + '1');
    yLabel(panel, -36, 'Frequency');

    legendBox(panel, 572.4, 6, 118.6, 34);
    panel.append('rect').attr('x', 576).attr('y', 11).attr('width', 22.6).attr('height', 7.5)
        .attr('fill', '#1f77b4').attr('fill-opacity', 0.65).attr('stroke', '#000').attr('stroke-opacity', 0.65);
    panel.append('rect').attr('x', 576).attr('y', 26).attr('width', 22.6).attr('height', 7.5)
        .attr('fill', '#ff7f0e').attr('fill-opacity', 0.65).attr('stroke', '#000').attr('stroke-opacity', 0.65);
    legendText(panel, 607.4, 15, 'U (zonal)');
    legendText(panel, 607.4, 30, 'V (meridional)');
}

function drawSummary() {
    svg.append('g').selectAll('text').data(summaryLines).join('text')
        .attr('x', (d) => RIGHT_COL + AXES_W / 2 + d[4])
        .attr('y', (d) => d[3])
        .attr('text-anchor', 'middle')
        .attr('dominant-baseline', 'central')
        .style('font-size', (d) => d[1] + 'px')
        .style('fill', (d) => d[2])
        .style('white-space', 'pre')
        .text((d) => d[0]);
}

drawMap();
drawSummary();
drawWind();
drawLatitude();
drawAltitude();
drawHistogram();
</script>
</body>
</html>
